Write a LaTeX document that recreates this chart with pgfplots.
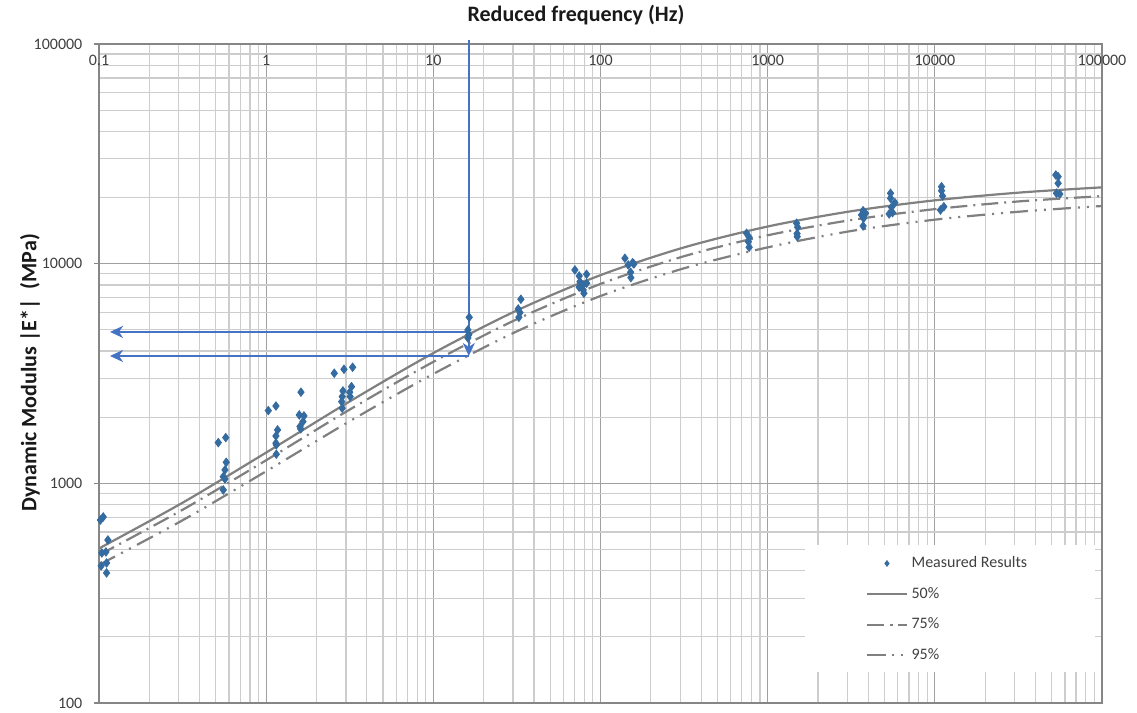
\documentclass[border=0pt]{standalone}
\usepackage{fontspec}
\setmainfont{Carlito}
\usepackage{pgfplots}
\pgfplotsset{compat=1.18}
\usetikzlibrary{arrows.meta}

\definecolor{curvegray}{RGB}{128,128,128}
\definecolor{gridmajor}{RGB}{160,160,160}
\definecolor{gridminor}{RGB}{205,205,205}
\definecolor{axisgray}{RGB}{134,134,134}
\definecolor{markblue}{RGB}{52,107,160}
\definecolor{arrowblue}{RGB}{68,114,196}
\definecolor{labelgray}{RGB}{64,64,64}

\begin{document}
\begin{tikzpicture}
\fill[white] (-49.5pt,-5pt) rectangle (519pt,351.5pt);
\begin{axis}[
  scale only axis,
  width=501.5pt, height=329.5pt,
  xmode=log, ymode=log,
  xmin=0.1, xmax=100000, ymin=100, ymax=100000,
  clip=false,
  xtick={0.1,1,10,100,1000,10000,100000},
  xticklabels={0.1,1,10,100,1000,10000,100000},
  minor xtick={0.2,0.3,0.4,0.5,0.6,0.7,0.8,0.9,
    2,3,4,5,6,7,8,9,20,30,40,50,60,70,80,90,
    200,300,400,500,600,700,800,900,
    2000,3000,4000,5000,6000,7000,8000,9000,
    20000,30000,40000,50000,60000,70000,80000,90000},
  ytick={100,1000,10000,100000},
  yticklabels={100,1000,10000,100000},
  minor ytick={200,300,400,500,600,700,800,900,
    2000,3000,4000,5000,6000,7000,8000,9000,
    20000,30000,40000,50000,60000,70000,80000,90000},
  xticklabel pos=upper,
  xtick style={draw=none},
  ytick pos=left,
  tick align=outside,
  major tick length=2.5pt,
  minor tick length=0pt,
  ytick style={axisgray, line width=0.6pt},
  xticklabel style={anchor=center, yshift=-10.5pt, font=\fontsize{8}{9.6}\selectfont, text=labelgray},
  yticklabel style={xshift=-2.3pt, font=\fontsize{8}{9.6}\selectfont, text=labelgray},
  grid=both,
  major grid style={draw=gridmajor, line width=0.6pt},
  minor grid style={draw=gridminor, line width=0.6pt},
  axis line style={draw=axisgray, line width=0.6pt},
  legend image code/.code={\draw[mark repeat=2,mark phase=2,#1]
    plot coordinates {(0pt,0pt) (9.75pt,0pt) (19.5pt,0pt)};},
  legend style={at={(0.7647,0.2291)}, anchor=north west, draw=none, fill=none,
    font=\fontsize{8}{9.6}\selectfont, text=labelgray, row sep=4.3pt,
    inner sep=0pt, nodes={inner sep=2pt}},
  legend cell align=left,
  reverse legend,
]

% white panel behind the legend
\fill[white] (rel axis cs:0.704,0.047) rectangle (rel axis cs:0.993,0.240);

% percentile master curves
\addplot[curvegray, line width=1.1pt,
  dash pattern=on 9pt off 3.5pt on 1pt off 3.5pt on 1pt off 3.5pt, smooth]
  coordinates {(0.1,425.3) (0.3162,678.9) (1,1135) (3.162,1918) (10,3148)
    (31.62,4920) (100,7124) (316.2,9527) (1000,11862) (3162,14083)
    (10000,15859) (31623,17232) (100000,18302)};
\addlegendentry{95\%}
\addplot[curvegray, line width=1.1pt,
  dash pattern=on 8.5pt off 3pt on 1pt off 3pt, smooth]
  coordinates {(0.1,471.6) (0.3162,758.1) (1,1273.5) (3.162,2166.6) (10,3573)
    (31.62,5585) (100,8085) (316.2,10813) (1000,13462) (3162,15800)
    (10000,17714) (31623,19200) (100000,20300)};
\addlegendentry{75\%}
\addplot[curvegray, line width=1.1pt, smooth]
  coordinates {(0.1,505.2) (0.3162,816.0) (1,1380.4) (3.162,2359.5) (10,3917.6)
    (31.62,6123.6) (100,8866) (316.2,11857) (1000,14761) (3162,17326)
    (10000,19424) (31623,21051) (100000,22256)};
\addlegendentry{50\%}

% measured dynamic modulus
\addplot[only marks, mark=diamond*, mark size=2.1pt,
  mark options={fill=markblue, draw=markblue},
  legend image post style={mark size=1.4pt}]
  coordinates {
  (0.102,681) (0.106,703) (0.113,552) (0.104,482) (0.110,487) (0.103,421) (0.111,434) (0.111,391)
  (0.517,1532) (0.573,1615) (0.577,1247) (0.567,1151) (0.554,1072) (0.567,1047) (0.554,933)
  (1.03,2143) (1.144,2249) (1.17,1750) (1.144,1643) (1.144,1524) (1.15,1497) (1.15,1357)
  (1.615,2600) (1.578,2048) (1.683,2027) (1.66,1911) (1.593,1813) (1.61,1770)
  (2.555,3171) (2.92,3305) (3.29,3376) (2.88,2634) (3.24,2755) (3.16,2598) (2.85,2481)
  (3.18,2481) (2.83,2354) (2.85,2198)
  (16.4,5700) (16.1,4990) (16.3,4750) (16.1,4590)
  (33.4,6888) (32.2,6223) (33.0,5987) (32.5,5700)
  (70.3,9361) (74.6,8790) (82.6,8947) (75.4,8279) (78.8,7997) (82.6,8144) (74.6,7816)
  (78.8,7590) (79.6,7330)
  (140,10582) (146.5,9863) (155.6,10103) (158.4,9968) (151.4,9140) (152,8637)
  (748,13752) (775,13185) (766,12594) (775,11877)
  (1489,15276) (1510,14646) (1500,13700) (1502,13275)
  (3724,17422) (3851,16960) (3643,16660) (3745,16091) (3724,14845)
  (5433,20915) (5433,19845) (5767,18951) (5508,18058) (5330,16836) (5585,17067)
  (10965,22410) (10965,21490) (11117,20330) (11320,18171) (10811,17555)
  (52930,25334) (54630,24890) (54630,23230) (53430,20915) (55930,20762)
  };
\addlegendentry{Measured Results}

% reading of the modulus at 16.3 Hz
\addplot[arrowblue, line width=1pt, forget plot,
  -{Stealth[length=6.5pt,width=6pt,inset=2pt]}]
  coordinates {(16.3,104000) (16.3,3800)};
\addplot[arrowblue, line width=1pt, forget plot,
  -{Stealth[length=6.5pt,width=6pt,inset=2pt]}]
  coordinates {(16.3,4890) (0.1164,4890)};
\addplot[arrowblue, line width=1pt, forget plot,
  -{Stealth[length=6.5pt,width=6pt,inset=2pt]}]
  coordinates {(16.3,3800) (0.1164,3800)};
\end{axis}

\node[font=\bfseries\fontsize{11}{13}\selectfont, text=black!90] at (238.5pt,344pt)
  {Reduced frequency (Hz)};
\node[rotate=90, font=\bfseries\fontsize{11}{13}\selectfont, text=black!90] at (-34.5pt,165pt)
  {Dynamic Modulus |E*|\ \ (MPa)};

\pgfresetboundingbox
\path[use as bounding box] (-49.5pt,-5pt) rectangle (519pt,351.5pt);
\end{tikzpicture}
\end{document}
